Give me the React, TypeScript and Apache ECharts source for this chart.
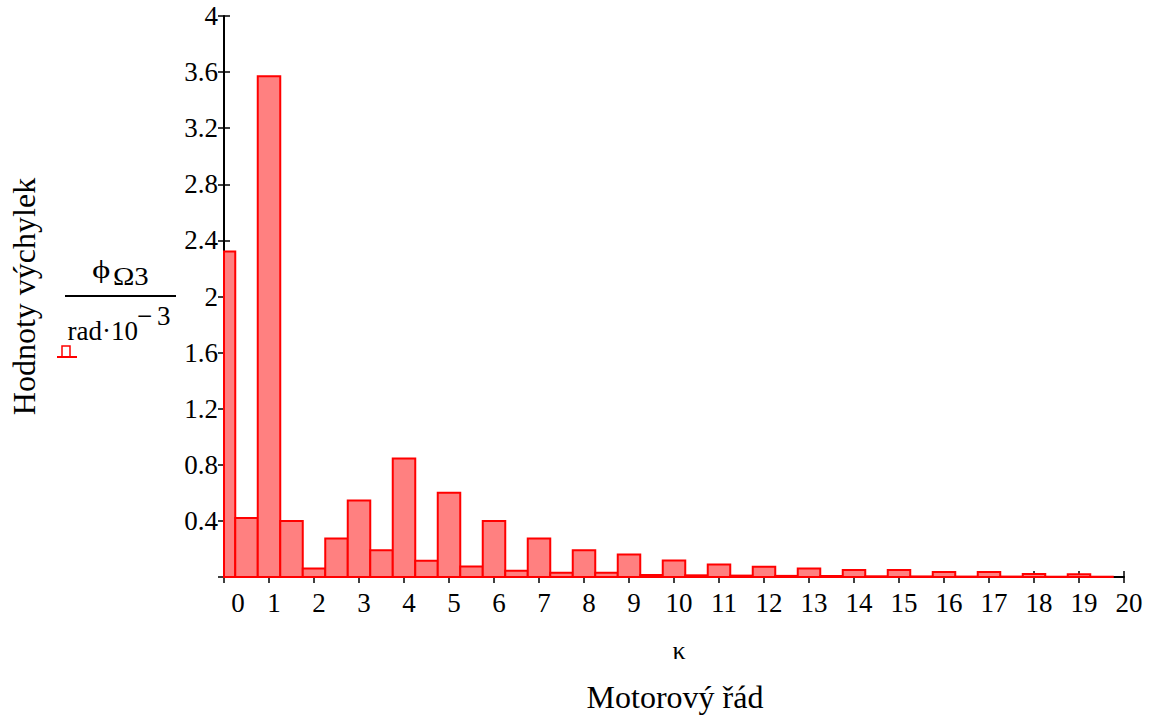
import React, { useEffect, useRef } from "react";
import * as echarts from "echarts";

// Motor order (bar centres) and deflection amplitudes (phi_Omega3 / (rad*10^-3))
const orders = [
  0, 0.5, 1, 1.5, 2, 2.5, 3, 3.5, 4, 4.5, 5, 5.5, 6, 6.5, 7, 7.5, 8, 8.5, 9, 9.5,
  10, 10.5, 11, 11.5, 12, 12.5, 13, 13.5, 14, 14.5, 15, 15.5, 16, 16.5, 17, 17.5,
  18, 18.5, 19, 19.5,
];
const amplitudes = [
  2.32, 0.42, 3.57, 0.4, 0.06, 0.275, 0.545, 0.19, 0.845, 0.115, 0.6, 0.075, 0.4,
  0.045, 0.275, 0.03, 0.19, 0.03, 0.16, 0.015, 0.118, 0.012, 0.09, 0.01, 0.073,
  0.008, 0.06, 0.007, 0.05, 0.005, 0.05, 0.004, 0.035, 0.003, 0.035, 0.003, 0.022,
  0.002, 0.02, 0.002,
];
const barWidthUnits = 0.5;
const xMin = 0;
const xMax = 20;
const yMin = 0;
const yMax = 4;
const yStep = 0.4;

const yTitle = "Hodnoty výchylek";
const xSymbol = "κ";
const xTitle = "Motorový řád";

const SERIF = '"Liberation Serif", "Times New Roman", serif';

export default function App() {
  const ref = useRef<HTMLDivElement>(null);

  useEffect(() => {
    if (!ref.current) return;
    const chart = echarts.init(ref.current, undefined, { renderer: "svg" });
    const data = orders.map((o, i) => [o, amplitudes[i]]);

    const txt = (
      text: string,
      x: number,
      y: number,
      fontSize: number,
      align: string = "left",
      extra: any = {}
    ) => ({
      type: "text",
      x,
      y,
      silent: true,
      ...extra,
      style: {
        text,
        fill: "#000",
        fontSize,
        fontFamily: SERIF,
        align,
        verticalAlign: "middle",
      },
    });

    chart.setOption({
      animation: false,
      backgroundColor: "#fff",
      grid: { left: 224, top: 16, width: 900, height: 561, containLabel: false },
      xAxis: [
        {
          type: "value",
          min: xMin,
          max: xMax,
          interval: 1,
          position: "bottom",
          axisLine: { show: true, onZero: false, lineStyle: { color: "#000", width: 2 } },
          axisTick: { show: true, length: 6, lineStyle: { color: "#000", width: 1.5 } },
          splitLine: { show: false },
          axisLabel: {
            show: true,
            margin: 12,
            fontSize: 27,
            fontFamily: SERIF,
            color: "#000",
            padding: [0, 0, 0, 10],
            formatter: (v: number) => (v === 0 ? "{z|0}" : String(v)),
            rich: {
              z: { fontSize: 27, fontFamily: SERIF, color: "#000", padding: [0, 0, 0, 18] },
            },
          },
        },
        {
          type: "value",
          min: xMin,
          max: xMax,
          interval: 1,
          position: "bottom",
          axisLine: { show: false },
          axisTick: { show: true, inside: true, length: 6, lineStyle: { color: "#000", width: 1.5 } },
          splitLine: { show: false },
          axisLabel: { show: false },
        },
      ],
      yAxis: [
        {
          type: "value",
          min: yMin,
          max: yMax,
          interval: yStep,
          position: "left",
          axisLine: { show: true, onZero: false, lineStyle: { color: "#000", width: 2 } },
          axisTick: { show: true, length: 6, lineStyle: { color: "#000", width: 1.5 } },
          splitLine: { show: false },
          axisLabel: {
            show: true,
            margin: 6,
            fontSize: 27,
            fontFamily: SERIF,
            color: "#000",
            formatter: (v: number) => (v === 0 ? "" : String(Math.round(v * 10) / 10)),
          },
        },
        {
          type: "value",
          min: yMin,
          max: yMax,
          interval: yStep,
          position: "left",
          axisLine: { show: false },
          axisTick: { show: true, inside: true, length: 6, lineStyle: { color: "#000", width: 1.5 } },
          splitLine: { show: false },
          axisLabel: { show: false },
        },
      ],
      series: [
        {
          type: "custom",
          xAxisIndex: 0,
          yAxisIndex: 0,
          data,
          z: 5,
          renderItem: (params: any, api: any) => {
            const c = api.value(0);
            const v = api.value(1);
            const left = Math.max(c - barWidthUnits / 2, xMin);
            const right = Math.min(c + barWidthUnits / 2, xMax);
            const p1 = api.coord([left, v]);
            const p0 = api.coord([right, 0]);
            return {
              type: "rect",
              shape: { x: p1[0], y: p1[1], width: p0[0] - p1[0], height: p0[1] - p1[1] },
              style: { fill: "#ff8080", stroke: "#ff0000", lineWidth: 2 },
            };
          },
        },
      ],
      graphic: [
        txt(yTitle, 24, 296.5, 32, "center", { rotation: Math.PI / 2 }),
        // fraction label: phi_Omega3 / (rad * 10^-3)
        txt("ϕ", 92, 270, 25, "left", { scaleX: 1.4 }),
        txt("Ω3", 113, 276.5, 25, "left", { scaleX: 1.15 }),
        {
          type: "line",
          silent: true,
          shape: { x1: 65, y1: 296, x2: 176, y2: 296 },
          style: { stroke: "#000", lineWidth: 2 },
        },
        txt("rad·10", 67.5, 331, 27, "left"),
        txt("−", 137, 316, 27, "left"),
        txt("3", 157, 316, 27, "left"),
        // legend swatch
        {
          type: "rect",
          silent: true,
          shape: { x: 62, y: 346, width: 8, height: 11 },
          style: { fill: "#fff", stroke: "#ff0000", lineWidth: 1.5 },
        },
        {
          type: "line",
          silent: true,
          shape: { x1: 57, y1: 357, x2: 77, y2: 357 },
          style: { stroke: "#ff0000", lineWidth: 2 },
        },
        txt(xSymbol, 679, 650, 26, "center"),
        txt(xTitle, 675, 697, 32, "center"),
      ],
    });

    return () => chart.dispose();
  }, []);

  return (
    <div
      ref={ref}
      style={{ position: "absolute", left: 0, top: 0, width: 1151, height: 719 }}
    />
  );
}
